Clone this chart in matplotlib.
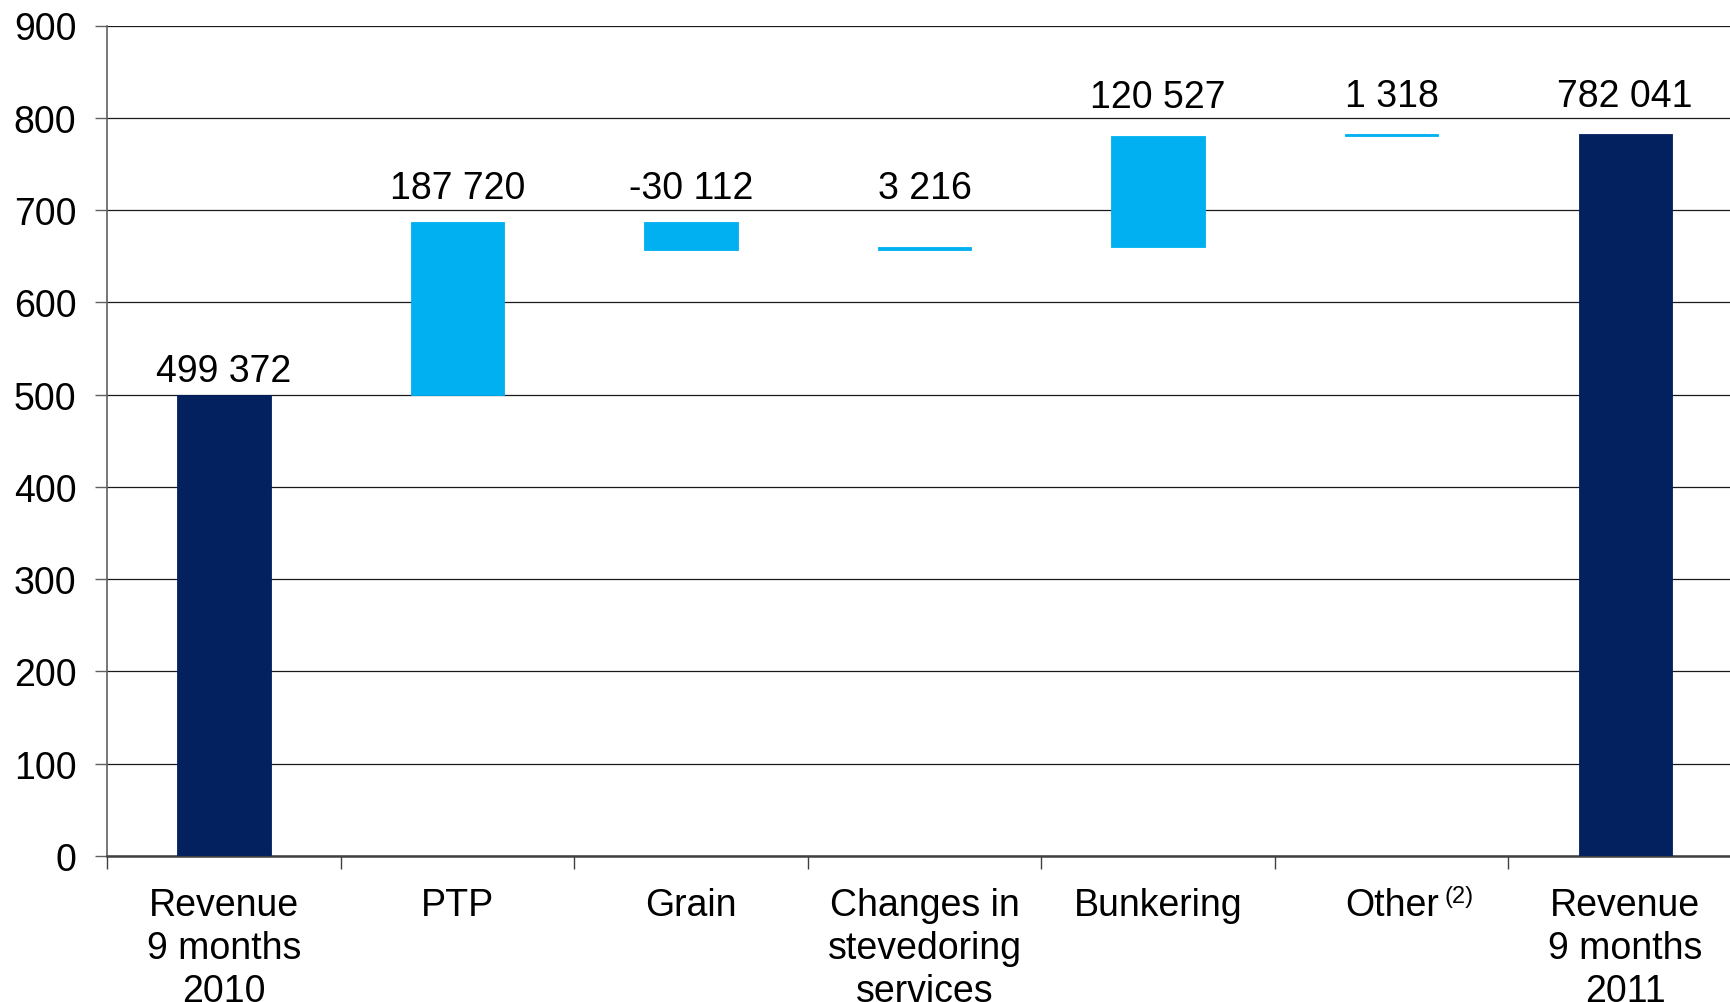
import numpy as np
import matplotlib.pyplot as plt

plt.rcParams['font.family'] = ['Liberation Sans', 'DejaVu Sans']

# waterfall data, thousands
categories = ['Revenue\n9 months\n2010', 'PTP', 'Grain', 'Changes in\nstevedoring\nservices',
              'Bunkering', 'Other', 'Revenue\n9 months\n2011']
start_value = 499.372
changes = [187.720, -30.112, 3.216, 120.527, 1.318]
end_value = 782.041
value_labels = ['499 372', '187 720', '-30 112', '3 216', '120 527', '1 318', '782 041']

navy = '#03215F'
light = '#00B0F0'

# build bottoms/heights
bottoms = [0]
heights = [start_value]
colors = [navy]
level = start_value
for c in changes:
    bottoms.append(min(level, level + c))
    heights.append(abs(c))
    colors.append(light)
    level += c
bottoms.append(0)
heights.append(end_value)
colors.append(navy)

tops = np.array(bottoms) + np.array(heights)
label_y = np.maximum.accumulate(tops) * 1.053

fig = plt.figure(figsize=(17.3, 10.03), dpi=100)
ax = fig.add_axes([107 / 1730, 1 - 857 / 1003, 1635 / 1730, (857 - 26.5) / 1003])

x = np.arange(len(categories))
ax.bar(x, heights, bottom=bottoms, width=0.4, color=colors, edgecolor=colors, linewidth=0.6, zorder=3)

for xi, yi, lab in zip(x, label_y, value_labels):
    ax.text(xi, yi, lab, ha='center', va='center', fontsize=27)

ax.set_xlim(-0.5, len(categories) - 0.5)
ax.set_ylim(0, 900)
ax.set_yticks(np.arange(0, 901, 100))
ax.yaxis.grid(True, color='#1a1a1a', linewidth=0.9, zorder=0)
ax.set_axisbelow(True)

ax.set_xticks(x)
ax.set_xticklabels(categories, fontsize=27, linespacing=1.25)
ax.set_xticks(np.arange(-0.5, len(categories), 1), minor=True)
ax.tick_params(axis='x', which='major', length=0, pad=22)
ax.tick_params(axis='x', which='minor', length=9, width=1, color='#404040', direction='out')
ax.tick_params(axis='y', labelsize=27, length=9, width=1, color='#606060', pad=13)

# footnote mark next to "Other"
other_lab = ax.get_xticklabels()[5]
ax.annotate('(2)', xy=(1, 1), xycoords=other_lab, xytext=(4, 1), textcoords='offset points',
            ha='left', va='top', fontsize=17)

for s in ['top', 'right']:
    ax.spines[s].set_visible(False)
ax.spines['left'].set_color('#606060')
ax.spines['left'].set_linewidth(1.2)
ax.spines['bottom'].set_color('#404040')
ax.spines['bottom'].set_linewidth(1.8)

fig.savefig('out.png', dpi=100)
